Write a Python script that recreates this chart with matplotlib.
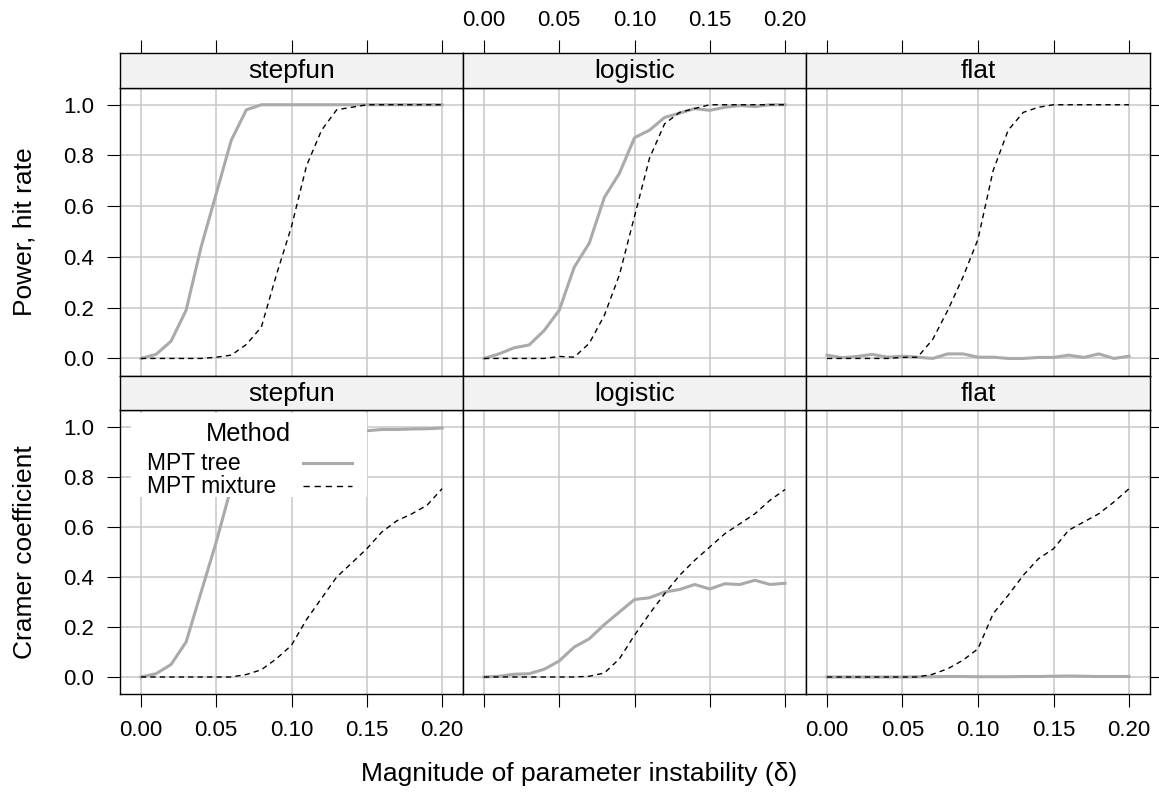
import matplotlib
matplotlib.use("Agg")
import matplotlib.pyplot as plt
from matplotlib.patches import Rectangle

plt.rcParams['font.family'] = ['Liberation Sans', 'DejaVu Sans']

# magnitude of parameter instability
delta = [0.00, 0.01, 0.02, 0.03, 0.04, 0.05, 0.06, 0.07, 0.08, 0.09, 0.10,
         0.11, 0.12, 0.13, 0.14, 0.15, 0.16, 0.17, 0.18, 0.19, 0.20]

panels = ["stepfun", "logistic", "flat"]
methods = ["MPT tree", "MPT mixture"]

# power (hit rate)
power_tree_stepfun = [0.00, 0.016, 0.068, 0.19, 0.44, 0.65, 0.86, 0.98, 1.0, 1.0, 1.0,
                      1.0, 1.0, 1.0, 1.0, 1.0, 1.0, 1.0, 1.0, 1.0, 1.0]
power_mix_stepfun = [0.0, 0.0, 0.0, 0.0, 0.0, 0.005, 0.013, 0.055, 0.124, 0.33, 0.52,
                     0.76, 0.9, 0.98, 0.99, 1.0, 1.0, 1.0, 1.0, 1.0, 1.0]
power_tree_logistic = [0.0, 0.018, 0.042, 0.053, 0.11, 0.19, 0.36, 0.455, 0.635, 0.73, 0.87,
                       0.9, 0.95, 0.967, 0.985, 0.978, 0.99, 0.997, 0.993, 1.0, 1.0]
power_mix_logistic = [0.0, 0.0, 0.0, 0.0, 0.0, 0.008, 0.005, 0.06, 0.17, 0.33, 0.56,
                      0.79, 0.925, 0.97, 0.985, 1.0, 1.0, 1.0, 1.0, 1.0, 1.0]
power_tree_flat = [0.013, 0.003, 0.008, 0.016, 0.005, 0.009, 0.005, 0.0, 0.018, 0.018, 0.005,
                   0.005, 0.0, 0.0, 0.004, 0.004, 0.013, 0.004, 0.018, 0.0, 0.009]
power_mix_flat = [0.0, 0.0, 0.0, 0.0, 0.0, 0.004, 0.005, 0.075, 0.19, 0.32, 0.47,
                  0.74, 0.9, 0.97, 0.99, 1.0, 1.0, 1.0, 1.0, 1.0, 1.0]

# Cramer coefficient
cramer_tree_stepfun = [0.0, 0.013, 0.05, 0.14, 0.34, 0.54, 0.76, 0.9, 0.95, 0.965, 0.97,
                       0.975, 0.978, 0.98, 0.982, 0.985, 0.99, 0.99, 0.992, 0.993, 0.996]
cramer_mix_stepfun = [0.0, 0.0, 0.0, 0.0, 0.0, 0.0, 0.0, 0.01, 0.029, 0.073, 0.127,
                      0.23, 0.315, 0.4, 0.456, 0.513, 0.58, 0.625, 0.653, 0.687, 0.753]
cramer_tree_logistic = [0.0, 0.003, 0.011, 0.013, 0.031, 0.064, 0.12, 0.153, 0.21, 0.26, 0.31,
                        0.317, 0.34, 0.35, 0.37, 0.352, 0.373, 0.37, 0.387, 0.37, 0.375]
cramer_mix_logistic = [0.0, 0.0, 0.0, 0.0, 0.0, 0.0, 0.0, 0.003, 0.016, 0.073, 0.167,
                       0.253, 0.333, 0.407, 0.467, 0.52, 0.573, 0.613, 0.653, 0.707, 0.75]
cramer_tree_flat = [0.0, 0.0, 0.0, 0.0, 0.0, 0.0, 0.001, 0.001, 0.002, 0.002, 0.001,
                    0.001, 0.001, 0.002, 0.002, 0.003, 0.004, 0.003, 0.002, 0.002, 0.002]
cramer_mix_flat = [0.0, 0.0, 0.0, 0.0, 0.0, 0.0, 0.0, 0.011, 0.033, 0.067, 0.113,
                   0.253, 0.327, 0.407, 0.473, 0.513, 0.587, 0.62, 0.653, 0.7, 0.753]

rows = [
    ("Power, hit rate", [(power_tree_stepfun, power_mix_stepfun),
                         (power_tree_logistic, power_mix_logistic),
                         (power_tree_flat, power_mix_flat)]),
    ("Cramer coefficient", [(cramer_tree_stepfun, cramer_mix_stepfun),
                            (cramer_tree_logistic, cramer_mix_logistic),
                            (cramer_tree_flat, cramer_mix_flat)]),
]

xticks = [0.00, 0.05, 0.10, 0.15, 0.20]
xticklabels = ["0.00", "0.05", "0.10", "0.15", "0.20"]
yticks = [0.0, 0.2, 0.4, 0.6, 0.8, 1.0]
yticklabels = ["0.0", "0.2", "0.4", "0.6", "0.8", "1.0"]

W, H = 1159, 794
fig = plt.figure(figsize=(W / 100, H / 100), dpi=100)
fig.patch.set_facecolor("white")


def px_axes(x0, y0, x1, y1):
    return fig.add_axes([x0 / W, 1 - y1 / H, (x1 - x0) / W, (y1 - y0) / H])


col_px = [(120, 463), (463, 806), (806, 1150)]
row_px = [((53, 87.5), (87.5, 375.7)), ((375.7, 410), (410, 694))]

xlim = (-0.0139, 0.2139)
ylim = (-0.068, 1.068)
tree_col = "#aaaaaa"
grid_col = "#c8c8c8"
fs_tick = 16
fs_lab = 19

tick_kw = dict(direction="out", length=9.5, width=0.8, labelsize=fs_tick, pad=9)

for r, ((strip_y, panel_y), (ylabel, series)) in enumerate(zip(row_px, rows)):
    for c, (x0, x1) in enumerate(col_px):
        tree, mix = series[c]
        ax = px_axes(x0, panel_y[0], x1, panel_y[1])
        ax.set_xlim(*xlim)
        ax.set_ylim(*ylim)
        for v in xticks:
            ax.axvline(v, color=grid_col, lw=1.1, zorder=0)
        for v in yticks:
            ax.axhline(v, color=grid_col, lw=1.1, zorder=0)
        ax.plot(delta, tree, color=tree_col, lw=2.2, zorder=3, label=methods[0])
        ax.plot(delta, mix, color="black", lw=1.0, dashes=(3.8, 3.0), zorder=3,
                label=methods[1])
        for s in ax.spines.values():
            s.set_linewidth(1.0)

        ax.set_yticks(yticks)
        ax.tick_params(axis="y", left=(c == 0), labelleft=(c == 0),
                       right=(c == 2), labelright=False, **tick_kw)
        ax.set_yticklabels(yticklabels)
        ax.set_xticks(xticks)
        ax.set_xticklabels(xticklabels)
        ax.tick_params(axis="x", bottom=(r == 1), labelbottom=(r == 1 and c != 1),
                       top=False, labeltop=False, **tick_kw)

        # strip with panel name
        sax = px_axes(x0, strip_y[0], x1, strip_y[1])
        sax.set_facecolor("#f2f2f2")
        sax.set_xlim(*xlim)
        sax.set_ylim(0, 1)
        sax.set_yticks([])
        sax.text(0.5, 0.47, panels[c], transform=sax.transAxes, ha="center",
                 va="center", fontsize=fs_lab)
        for s in sax.spines.values():
            s.set_linewidth(1.0)
        if r == 0:
            sax.set_xticks(xticks)
            sax.set_xticklabels(xticklabels)
            sax.tick_params(axis="x", bottom=False, labelbottom=False, top=True,
                            labeltop=(c == 1), **tick_kw)
            sax.tick_params(axis="x", pad=6)
        else:
            sax.set_xticks([])

        if r == 1 and c == 0:
            # key inside the first panel
            ax.add_patch(Rectangle((0.032, 0.694), 0.688, 0.295, transform=ax.transAxes,
                                   facecolor="white", edgecolor="none", zorder=5))
            ax.text(0.373, 0.915, "Method", transform=ax.transAxes, ha="center",
                    va="center", fontsize=18.3, zorder=6)
            ax.text(0.079, 0.813, methods[0], transform=ax.transAxes, ha="left",
                    va="center", fontsize=16.5, zorder=6)
            ax.text(0.079, 0.732, methods[1], transform=ax.transAxes, ha="left",
                    va="center", fontsize=16.5, zorder=6)
            ax.plot([0.534, 0.676], [0.813, 0.813], transform=ax.transAxes,
                    color=tree_col, lw=2.2, zorder=6)
            ax.plot([0.534, 0.676], [0.732, 0.732], transform=ax.transAxes,
                    color="black", lw=1.0, dashes=(4.5, 3.5), zorder=6)

    fig.text(25 / W, 1 - (panel_y[0] + panel_y[1]) / 2 / H, ylabel, rotation=90,
             ha="center", va="center", fontsize=fs_lab)

fig.text(0.5, 1 - 774 / H, "Magnitude of parameter instability (δ)",
         ha="center", va="center", fontsize=fs_lab)

fig.savefig("out.png", dpi=100)
